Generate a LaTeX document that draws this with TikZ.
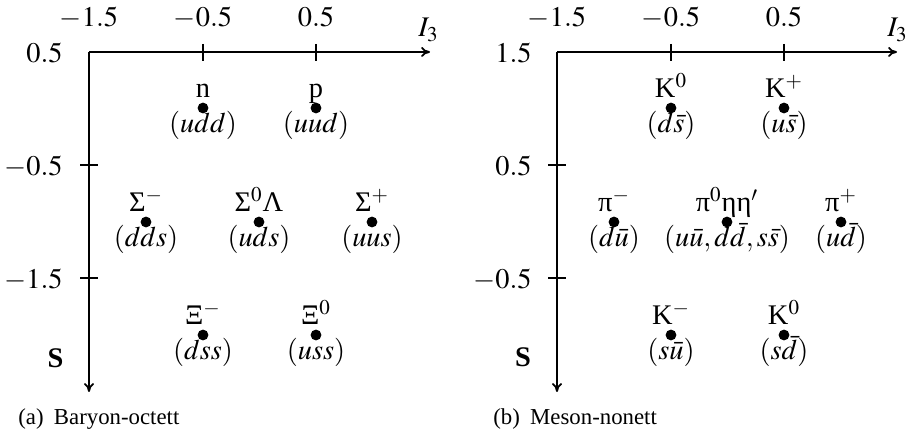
\documentclass[tikz,border=0pt]{standalone}
\usepackage{mathptmx}
\usepackage{fontspec}
\setmainfont{Liberation Serif}
\usetikzlibrary{arrows.meta}
\tikzset{
  axisline/.style={line width=0.9pt},
  axisarrow/.style={axisline,-{To[length=4.5pt,width=5pt]}},
  tickline/.style={line width=0.8pt},
  dotnode/.style={circle,fill=black,inner sep=0pt,minimum size=5.4pt},
  lab/.style={font=\fontsize{14.2}{17}\selectfont,inner sep=0pt,anchor=base},
  ticklab/.style={lab},
  leftlab/.style={lab,anchor=base east},
  caplab/.style={font=\fontsize{11.4}{14}\selectfont,inner sep=0pt,anchor=base west},
}
\newcommand\particle[5]{%
  \node[dotnode] (#1) at (#2,#3) {};
  \node[lab] (#1-name) at ({#2},{#3-10}) {#4};
  \node[lab] (#1-quark) at ({#2},{#3+25}) {#5};
}
\begin{document}
\begin{tikzpicture}[x=0.5pt,y=-0.5pt]
\useasboundingbox (0,0) rectangle (907,437);

% ---------- (a) Baryon octet ----------
\coordinate (aO) at (89,52);
\coordinate (aX) at (430,52);
\coordinate (aY) at (89,392);
\draw[axisarrow] (aO) -- (aX);
\draw[axisarrow] (aO) -- (aY);
\draw[tickline] (203,44) -- (203,61);
\draw[tickline] (316,44) -- (316,61);
\draw[tickline] (80,165) -- (98,165);
\draw[tickline] (80,278) -- (98,278);
\node[ticklab] (ax1) at (89,27) {$-1.5$};
\node[ticklab] (ax2) at (203,27) {$-0.5$};
\node[ticklab] (ax3) at (316,27) {$0.5$};
\node[leftlab] (ay1) at (63,63) {$0.5$};
\node[leftlab] (ay2) at (63,176) {$-0.5$};
\node[leftlab] (ay3) at (63,289) {$-1.5$};
\node[lab,anchor=base west] (aI) at (418,37) {$I_3$};
\node[lab] (aS) at (55.5,368) {\textbf{S}};

\particle{n}{203}{108}{n}{$(udd)$}
\particle{p}{316}{108}{p}{$(uud)$}
\particle{Sm}{146}{222}{Σ$^-$}{$(dds)$}
\particle{S0}{259}{222}{Σ$^0$Λ}{$(uds)$}
\particle{Sp}{372}{222}{Σ$^+$}{$(uus)$}
\particle{Xm}{203}{335}{Ξ$^-$}{$(dss)$}
\particle{X0}{316}{335}{Ξ$^0$}{$(uss)$}

\node[caplab] (capa) at (18,425) {(a)\hspace{0.45em}Baryon-octett};

% ---------- (b) Meson nonet ----------
\coordinate (bO) at (557,52);
\coordinate (bX) at (897,52);
\coordinate (bY) at (557,392);
\draw[axisarrow] (bO) -- (bX);
\draw[axisarrow] (bO) -- (bY);
\draw[tickline] (671,44) -- (671,61);
\draw[tickline] (784,44) -- (784,61);
\draw[tickline] (548,165) -- (566,165);
\draw[tickline] (548,278) -- (566,278);
\node[ticklab] (bx1) at (557,27) {$-1.5$};
\node[ticklab] (bx2) at (671,27) {$-0.5$};
\node[ticklab] (bx3) at (784,27) {$0.5$};
\node[leftlab] (by1) at (532,63) {$1.5$};
\node[leftlab] (by2) at (532,176) {$0.5$};
\node[leftlab] (by3) at (532,289) {$-0.5$};
\node[lab,anchor=base west] (bI) at (887,37) {$I_3$};
\node[lab] (bS) at (523,367) {\textbf{S}};

\particle{K0}{671}{108}{K$^0$}{$(d\bar s)$}
\particle{Kp}{784}{108}{K$^+$}{$(u\bar s)$}
\particle{pim}{614}{222}{π$^-$}{$(d\bar u)$}
\particle{pi0}{727}{222}{π$^0$ηη$'$}{$(u\bar u,d\bar d,s\bar s)$}
\particle{pip}{841}{222}{π$^+$}{$(u\bar d)$}
\particle{Km}{671}{335}{K$^-$}{$(s\bar u)$}
\particle{K0b}{784}{335}{K$^0$}{$(s\bar d)$}

\node[caplab] (capb) at (493,425) {(b)\hspace{0.45em}Meson-nonett};
\end{tikzpicture}
\end{document}
